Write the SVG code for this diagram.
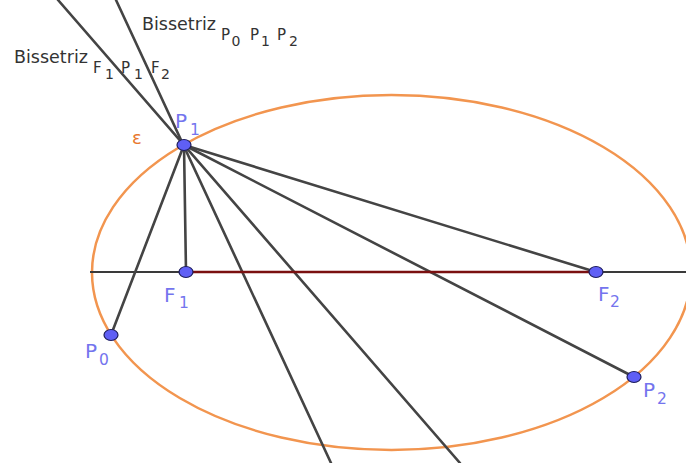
<svg xmlns="http://www.w3.org/2000/svg" width="686" height="463" viewBox="0 0 686 463">
<style>
.ln{stroke:#444;stroke-width:2.6;fill:none;stroke-linecap:round}
.ax{stroke:#3a3a3a;stroke-width:2.2;fill:none}
.seg{stroke:#7a1010;stroke-width:2.4;fill:none}
.ell{stroke:#f2954f;stroke-width:2.5;fill:none}
.pt{fill:#5f5ff5;stroke:#1d1d5a;stroke-width:1.2}
.t{font-family:"DejaVu Sans","Liberation Sans",Arial,sans-serif;fill:#333}
.pl{font-family:"DejaVu Sans","Liberation Sans",Arial,sans-serif;fill:#7474ee}
.eps{font-family:"DejaVu Sans","Liberation Sans",Arial,sans-serif;fill:#e8782e}
.b{font-size:17.5px}
.s{font-size:15px}
.d{font-size:14px}
.L{font-size:20px}
.D{font-size:15.5px}
</style>
<rect width="686" height="463" fill="#fff"/>
<g id="ellipse">
<ellipse class="ell" cx="391.5" cy="272.5" rx="299.5" ry="177.5"/>
<text class="eps" x="132" y="144" font-size="18">ε</text>
</g>
<g id="connectors">
<line class="ax" x1="90" y1="272" x2="686" y2="272"/>
<line class="ln" x1="58" y1="0" x2="460" y2="463"/>
<line class="ln" x1="116" y1="0" x2="331" y2="463"/>
<line class="ln" x1="184" y1="145" x2="111" y2="335"/>
<line class="ln" x1="184" y1="145" x2="186" y2="272"/>
<line class="ln" x1="184" y1="145" x2="596" y2="272"/>
<line class="ln" x1="184" y1="145" x2="634" y2="377"/>
<line class="seg" x1="186" y1="272" x2="596" y2="272"/>
</g>
<g id="label-bissetriz-p0p1p2" class="t">
<text class="b" x="142" y="30">Bissetriz</text>
<text class="s" x="221" y="39.5">P</text>
<text class="d" x="231.5" y="46">0</text>
<text class="s" x="250" y="39.5">P</text>
<text class="d" x="261" y="46">1</text>
<text class="s" x="277" y="39.5">P</text>
<text class="d" x="289" y="46">2</text>
</g>
<g id="label-bissetriz-f1p1f2" class="t">
<text class="b" x="14" y="63">Bissetriz</text>
<text class="s" x="93" y="72.5">F</text>
<text class="d" x="105" y="79">1</text>
<text class="s" x="121" y="72.5">P</text>
<text class="d" x="134" y="79">1</text>
<text class="s" x="151" y="72.5">F</text>
<text class="d" x="161" y="79">2</text>
</g>
<g id="P1">
<ellipse class="pt" cx="184" cy="145" rx="7" ry="5.5"/>
<text class="pl L" x="175" y="128">P</text>
<text class="pl D" x="190" y="135">1</text>
</g>
<g id="F1">
<ellipse class="pt" cx="186" cy="272" rx="7" ry="5.5"/>
<text class="pl L" x="164" y="302">F</text>
<text class="pl D" x="179" y="308">1</text>
</g>
<g id="F2">
<ellipse class="pt" cx="596" cy="272" rx="7" ry="5.5"/>
<text class="pl L" x="598" y="301">F</text>
<text class="pl D" x="610" y="307">2</text>
</g>
<g id="P0">
<ellipse class="pt" cx="111" cy="335" rx="7" ry="5.5"/>
<text class="pl L" x="85" y="358">P</text>
<text class="pl D" x="99" y="365">0</text>
</g>
<g id="P2">
<ellipse class="pt" cx="634" cy="377" rx="7" ry="5.5"/>
<text class="pl L" x="643" y="397">P</text>
<text class="pl D" x="657" y="404">2</text>
</g>
</svg>
